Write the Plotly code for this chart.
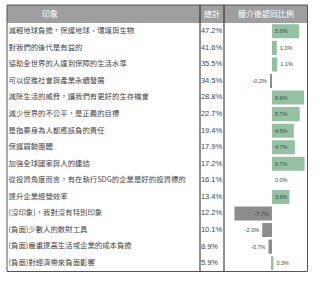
import plotly.graph_objects as go

labels = [
    "減輕地球負擔，保護地球、環境與生物",
    "對我們的後代是有益的",
    "協助全世界的人達到保障的生活水準",
    "可以促進社會與產業永續發展",
    "減除生活的威脅，讓我們有更好的生存機會",
    "減少世界的不公平，是正義的目標",
    "是指要身為人都應該負的責任",
    "保護弱勢團體",
    "加強全球國家與人的連結",
    "從投資角度而言，有在執行SDG的企業是好的投資標的",
    "提升企業經營效率",
    "(沒印象)，我對沒有特別印象",
    "(負面)少數人的斂財工具",
    "(負面)嚴重提高生活或企業的成本負擔",
    "(負面)對經濟帶來負面影響",
]
totals = [47.2, 41.6, 35.5, 34.5, 28.8, 22.7, 19.4, 17.9, 17.2, 16.1, 13.4, 12.2, 10.1, 8.9, 5.9]
diffs = [5.6, 1.0, 1.1, -0.2, 6.6, 5.7, 4.5, 4.7, 6.7, 0.0, 3.6, -7.7, -2.0, -0.7, 0.3]
headers = ["印象", "總計", "簡介後認同比例"]

W, H = 320, 281
FONT = "Noto Sans CJK TC"
POS = "#93c1a2"
NEG = "#8c8c8c"
TXT = "#444444"

def px(x):
    return x / W

def py(y):
    return (H - y) / H

left, c1, c2, right = 7, 200, 224, 307.5
top, head_bot, bottom = 5, 23, 271.5

fig = go.Figure()

fig.add_trace(go.Scatter(
    x=[0] * len(labels), y=labels, mode="text", text=labels,
    textposition="middle right", textfont=dict(family=FONT, size=7.4, color=TXT),
    xaxis="x", yaxis="y", hoverinfo="skip", showlegend=False,
))
fig.add_trace(go.Scatter(
    x=[0] * len(totals), y=labels, mode="text", text=[f"{v:.1f}%" for v in totals],
    textposition="middle right", textfont=dict(family="Liberation Sans", size=7.5, color=TXT),
    xaxis="x2", yaxis="y", hoverinfo="skip", showlegend=False,
))
inside_set = {0, 4, 5, 6, 7, 8, 10, 11}
fig.add_trace(go.Bar(
    x=diffs, y=labels, orientation="h",
    marker=dict(color=[POS if v >= 0 else NEG for v in diffs], line=dict(width=0)),
    width=0.85,
    text=[f"{v:.1f}%" for v in diffs],
    textposition=["inside" if i in inside_set else "outside" for i in range(len(diffs))],
    insidetextanchor="start",
    constraintext="none",
    insidetextfont=dict(family="Liberation Sans", size=5.5, color=TXT),
    outsidetextfont=dict(family="Liberation Sans", size=5.5, color=TXT),
    cliponaxis=False,
    xaxis="x3", yaxis="y", hoverinfo="skip", showlegend=False,
))

ax_common = dict(showgrid=False, zeroline=False, showticklabels=False, ticks="", showline=False, fixedrange=True)
fig.update_layout(
    width=W, height=H, margin=dict(l=0, r=0, t=0, b=0),
    paper_bgcolor="white", plot_bgcolor="rgba(0,0,0,0)",
    xaxis=dict(domain=[px(left), px(c1)], range=[-0.008, 1], anchor="y", **ax_common),
    xaxis2=dict(domain=[px(c1), px(c2)], range=[-0.04, 1], anchor="y", **ax_common),
    xaxis3=dict(domain=[px(c2), px(right)], range=[-9.85, 7.3], anchor="y", **ax_common),
    yaxis=dict(domain=[py(bottom), py(head_bot)], type="category", categoryarray=labels,
               range=[len(labels) - 0.5, -0.5], anchor="x", **ax_common),
    bargap=0.15,
)

shapes = [
    dict(type="rect", xref="paper", yref="paper", x0=px(left), x1=px(right), y0=py(head_bot), y1=py(top),
         fillcolor="#9f9f9f", line=dict(width=0), layer="below"),
    dict(type="rect", xref="paper", yref="paper", x0=px(left), x1=px(right), y0=py(bottom), y1=py(top),
         line=dict(color="#555555", width=1), fillcolor="rgba(0,0,0,0)"),
    dict(type="line", xref="paper", yref="paper", x0=px(c1), x1=px(c1), y0=py(bottom), y1=py(top),
         line=dict(color="#222222", width=1)),
    dict(type="line", xref="paper", yref="paper", x0=px(c2), x1=px(c2), y0=py(bottom), y1=py(top),
         line=dict(color="#222222", width=1)),
]
fig.update_layout(shapes=shapes)

hx = [50, 212, 266]
for h, x in zip(headers, hx):
    fig.add_annotation(x=px(x), y=py((top + head_bot) / 2), xref="paper", yref="paper",
                       text=h, showarrow=False, xanchor="center", yanchor="middle",
                       font=dict(family=FONT, size=8, color="white"))

fig.write_html("out.html")
